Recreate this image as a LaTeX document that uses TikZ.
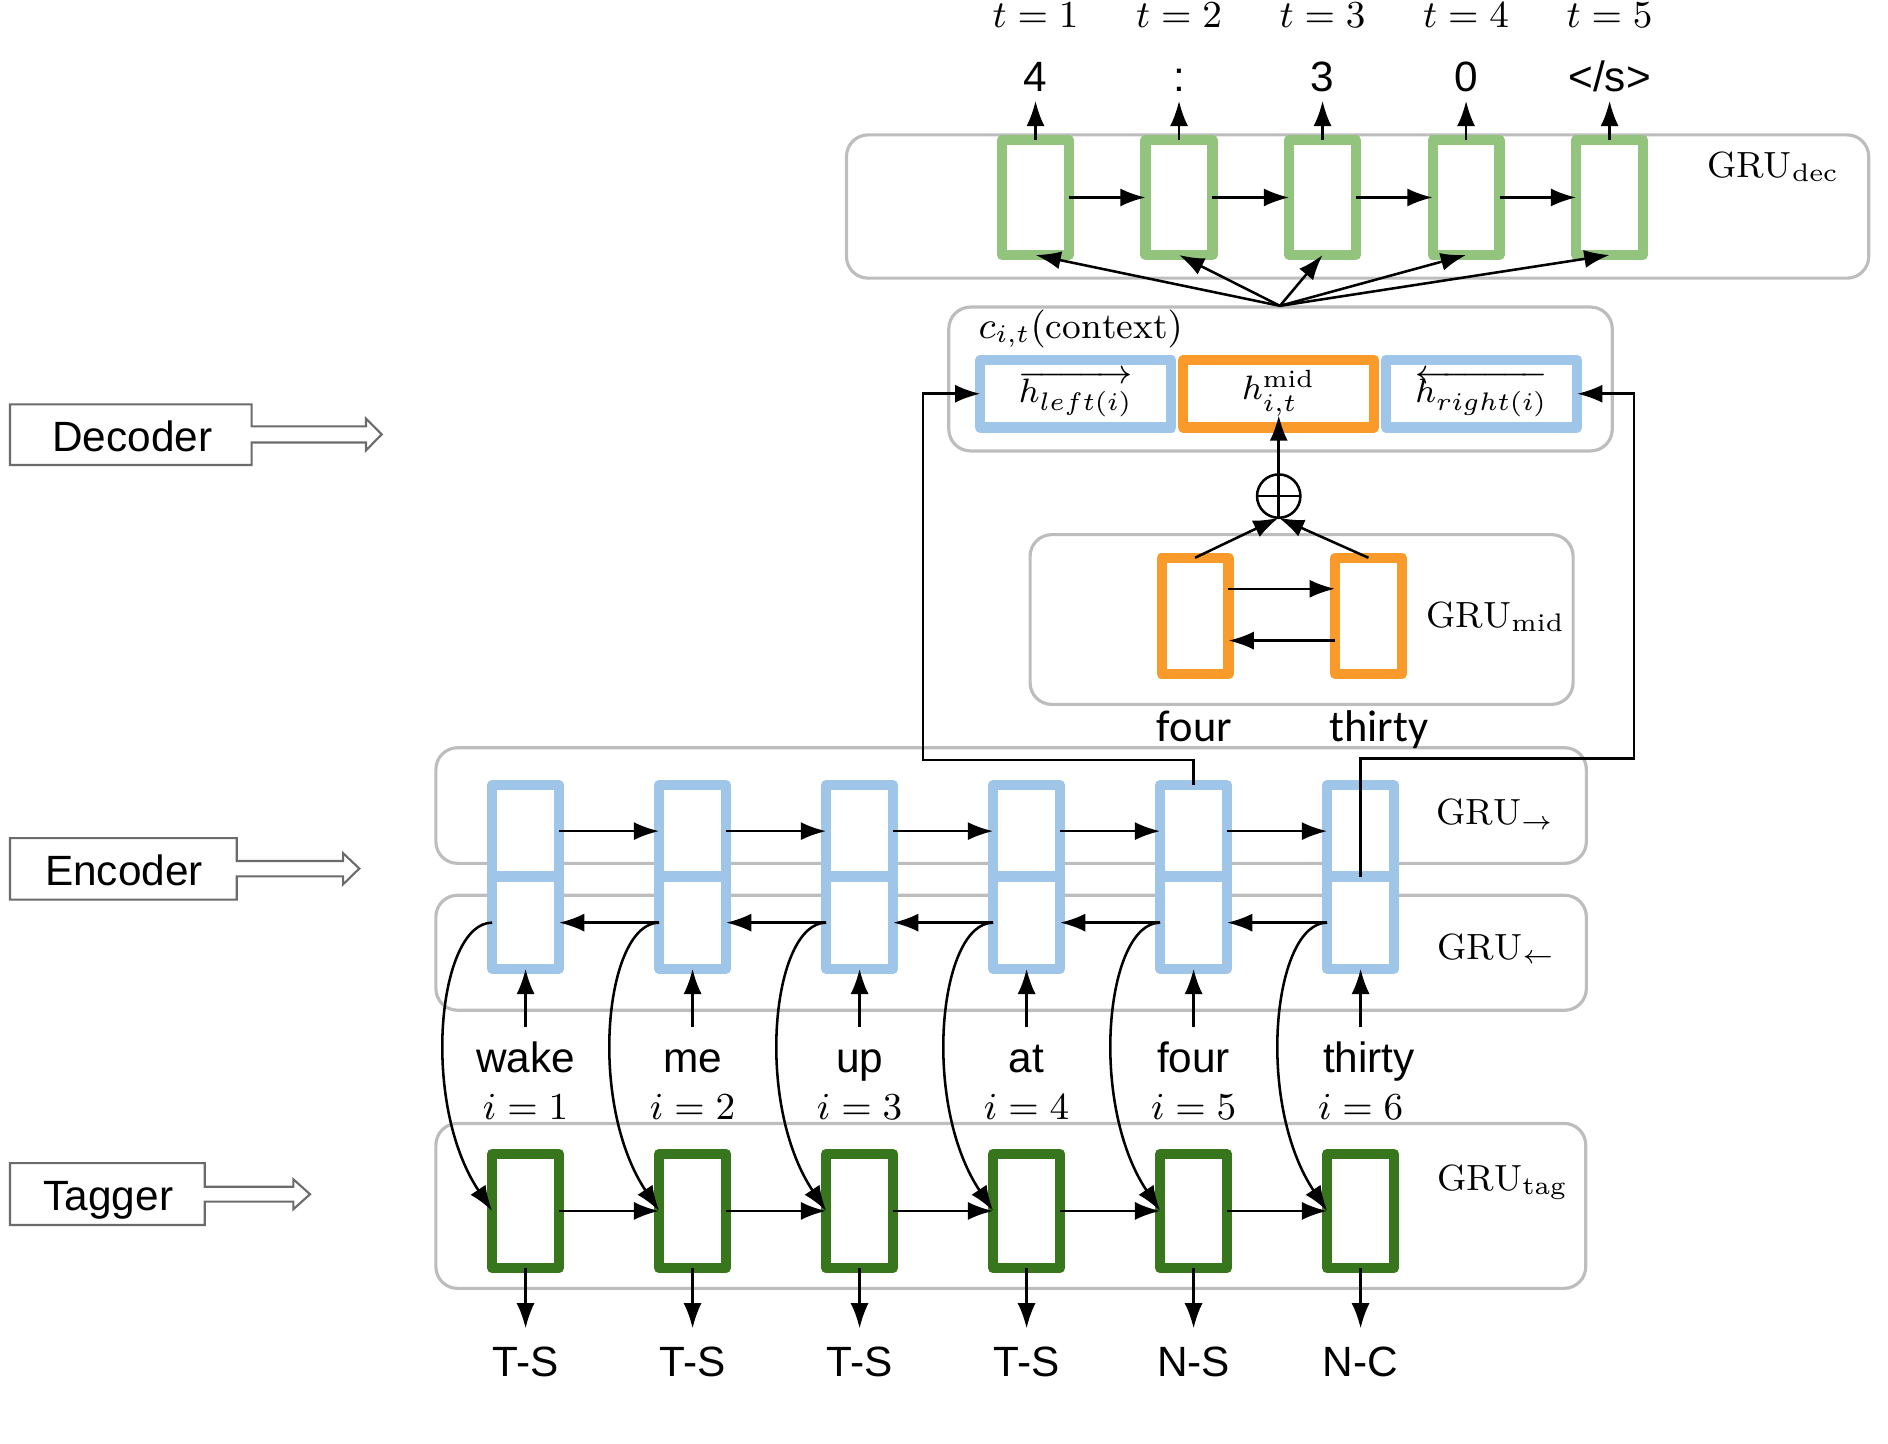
\documentclass[tikz,border=0pt]{standalone}
\usepackage{fontspec}
\newfontfamily\arialf{Liberation Sans}
\newfontfamily\calibf{Carlito}
\usetikzlibrary{arrows.meta,calc}
\definecolor{lblue}{HTML}{9FC5E8}
\definecolor{lgreen}{HTML}{93C47D}
\definecolor{dgreen}{HTML}{38761D}
\definecolor{orng}{HTML}{F99A2A}
\definecolor{boxgray}{HTML}{BDBDBD}
\definecolor{lblgray}{HTML}{6B6B6B}
\begin{document}
\begin{tikzpicture}[x=0.01cm,y=-0.01cm,
  arr/.style={line width=0.6pt,-{Latex[length=0.21cm,width=0.15cm]}},
  grp/.style={draw=boxgray,line width=0.75pt,rounded corners=0.18cm},
  cellbase/.style={draw,fill=white,line width=0.085cm,line join=round,inner sep=0,outer sep=0,minimum width=0.555cm},
  deccell/.style={cellbase,draw=lgreen,minimum height=0.955cm},
  midcell/.style={cellbase,draw=orng,minimum height=0.965cm},
  tagcell/.style={cellbase,draw=dgreen,minimum height=0.95cm},
  enccell/.style={cellbase,draw=lblue,minimum height=0.765cm},
  ctxcell/.style={cellbase,minimum width=1.585cm,minimum height=0.56cm,font=\fontsize{8.4}{10}\selectfont},
  mathlbl/.style={font=\fontsize{8.6}{10}\selectfont,inner sep=0},
  sanslbl/.style={font=\arialf\fontsize{10}{12}\selectfont,inner sep=0,anchor=base},
  outlbl/.style={font=\arialf\fontsize{10}{12}\selectfont,anchor=base,text height=0.235cm,text depth=0pt,inner sep=0.07cm},
  wordlbl/.style={font=\arialf\fontsize{10}{12}\selectfont,anchor=base,text height=0.25cm,text depth=0.07cm,inner sep=0.12cm},
  taglbl/.style={font=\arialf\fontsize{10}{12}\selectfont,anchor=base,text height=0.25cm,text depth=0pt,inner sep=0.14cm},
  lblarrow/.style={draw=lblgray,line width=0.5pt}
]
\useasboundingbox (0,0) rectangle (1568,1199);

% ---------------- group boxes ----------------
\draw[grp] (703,112) rectangle (1552,231);
\draw[grp] (788,255) rectangle (1339,374.5);
\draw[grp] (855.5,444) rectangle (1306.5,585);
\draw[grp] (362,621) rectangle (1317.5,717);
\draw[grp] (362,743.5) rectangle (1317.5,839);
\draw[grp] (362,933) rectangle (1317,1070);

% ---------------- decoder ----------------
\foreach \i/\x in {1/860,2/979.2,3/1098.4,4/1217.6,5/1336.8}{
  \node[deccell] (d\i) at (\x,164) {};
  \node[mathlbl,anchor=base] (t\i) at (\x,23) {$t=\i$};
}
\node[outlbl] (o1) at (860,76) {4};
\node[outlbl] (o2) at (979.2,76) {:};
\node[outlbl] (o3) at (1098.4,76) {3};
\node[outlbl] (o4) at (1217.6,76) {0};
\node[outlbl] (o5) at (1336.8,76) {</s>};
\foreach \i in {1,...,5}{\draw[arr] (d\i.north) -- (o\i.south);}
\foreach \i/\j in {1/2,2/3,3/4,4/5}{\draw[arr] (d\i.east) -- (d\j.west);}
\node[mathlbl,anchor=base west] (gdec) at (1417,147) {$\mathrm{GRU}_{\mathrm{dec}}$};
\coordinate (conv) at (1063,254);
\foreach \i in {1,...,5}{\draw[arr] (conv) -- (d\i.south);}

% ---------------- context ----------------
\node[mathlbl,anchor=base west] (ctxlbl) at (812,281) {$c_{i,t}(\mathrm{context})$};
\node[ctxcell,draw=lblue] (cl) at (893.5,327) {$\overrightarrow{h_{left(i)}}$};
\node[ctxcell,draw=orng] (cm) at (1062,327) {$h^{\mathrm{mid}}_{i,t}$};
\node[ctxcell,draw=lblue] (cr) at (1230.5,327) {$\overleftarrow{h_{right(i)}}$};

\node[draw,circle,line width=0.6pt,minimum size=0.36cm,inner sep=0,outer sep=0] (plus) at (1062,412) {};
\draw[line width=0.6pt] (plus.west) -- (plus.east);
\draw[arr,shorten >=-0.1cm] (plus.south) -- (cm.south);

% ---------------- GRU mid ----------------
\node[midcell] (m1) at (992.5,511.5) {};
\node[midcell] (m2) at (1136.5,511.5) {};
\draw[arr] (m1.north) -- (plus.south);
\draw[arr] (m2.north) -- (plus.south);
\draw[arr] ([yshift=0.225cm]m1.east) -- ([yshift=0.225cm]m2.west);
\draw[arr] ([yshift=-0.205cm]m2.west) -- ([yshift=-0.205cm]m1.east);
\node[mathlbl,anchor=base west] (gmid) at (1184,521) {$\mathrm{GRU}_{\mathrm{mid}}$};
\node[font=\calibf\fontsize{10.5}{12}\selectfont,anchor=base,inner sep=0] (mfour) at (992,616) {four};
\node[font=\calibf\fontsize{10.5}{12}\selectfont,anchor=base,inner sep=0] (mthirty) at (1145,616) {thirty};

% ---------------- encoder ----------------
\foreach \i/\x/\w/\wx in {1/436.5/wake/436.5,2/575.2/me/575.2,3/713.9/up/713.9,4/852.6/at/852.6,5/991.3/four/991.3,6/1130/thirty/1137}{
  \node[enccell] (f\i) at (\x,690.25) {};
  \node[enccell] (b\i) at (\x,766.25) {};
  \node[wordlbl] (w\i) at (\wx,891) {\w};
  \node[mathlbl,anchor=base] (il\i) at (\x,930) {$i=\i$};
  \draw[arr] (w\i.north -| b\i.south) -- (b\i.south);
}
\foreach \i/\j in {1/2,2/3,3/4,4/5,5/6}{
  \draw[arr] (f\i.east) -- (f\j.west);
  \draw[arr] (b\j.west) -- (b\i.east);
}
\node[mathlbl,anchor=base west] (gfwd) at (1192,685) {$\mathrm{GRU}_{\rightarrow}$};
\node[mathlbl,anchor=base west] (gbwd) at (1193,797) {$\mathrm{GRU}_{\leftarrow}$};

% ---------------- tagger ----------------
\foreach \i/\x/\t in {1/436.5/T-S,2/575.2/T-S,3/713.9/T-S,4/852.6/T-S,5/991.3/N-S,6/1130/N-C}{
  \node[tagcell] (g\i) at (\x,1005.7) {};
  \node[taglbl] (tl\i) at (\x,1143) {\t};
  \draw[arr] (g\i.south) -- (tl\i.north);
  \draw[arr] (b\i.west) .. controls +(-45,0) and +(-60,-90) .. (g\i.west);
}
\foreach \i/\j in {1/2,2/3,3/4,4/5,5/6}{\draw[arr] (g\i.east) -- (g\j.west);}
\node[mathlbl,anchor=base west] (gtag) at (1193,988.5) {$\mathrm{GRU}_{\mathrm{tag}}$};

% ---------------- feedback lines ----------------
\coordinate (fbL) at (766.6,631);
\draw[arr] (f5.north) |- (fbL) |- (cl.west);
\coordinate (fbR) at (1357,630);
\draw[arr] (f6.south) |- (fbR) |- (cr.east);

% ---------------- side labels ----------------
\node[sanslbl] (ldec) at (110,375) {Decoder};
\draw[lblarrow] (8.3,335.8) -- (209,335.8) -- (209,354.1) -- (304,354.1) -- (304,347.6) -- (317,360.7) -- (304,374) -- (304,367.5) -- (209,367.5) -- (209,386.2) -- (8.3,386.2) -- cycle;
\node[sanslbl] (lenc) at (103,735) {Encoder};
\draw[lblarrow] (8.3,696.1) -- (196.6,696.1) -- (196.6,715.1) -- (285,715.1) -- (285,708.6) -- (298.4,721.3) -- (285,734.4) -- (285,727.8) -- (196.6,727.8) -- (196.6,747.1) -- (8.3,747.1) -- cycle;
\node[sanslbl] (ltag) at (90,1005) {Tagger};
\draw[lblarrow] (8.3,966) -- (170,966) -- (170,985.6) -- (243.6,985.6) -- (243.6,979.4) -- (257.5,991.8) -- (243.6,1004.3) -- (243.6,998) -- (170,998) -- (170,1017.4) -- (8.3,1017.4) -- cycle;
\end{tikzpicture}
\end{document}
